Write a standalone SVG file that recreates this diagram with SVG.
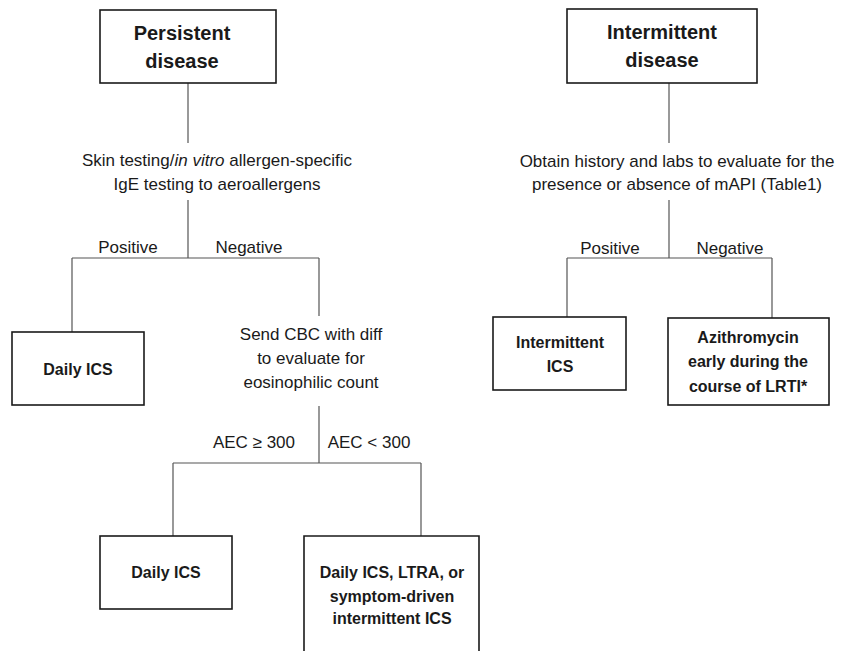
<svg xmlns="http://www.w3.org/2000/svg" width="844" height="651" viewBox="0 0 844 651">
<style>
.box{fill:#fff;stroke:#1a1a1a;stroke-width:1.6}
.ln{fill:none;stroke:#555;stroke-width:1.2}
.t{font-family:"Liberation Sans",Arial,sans-serif;font-size:17px;fill:#1a1a1a;text-anchor:middle}
.b{font-family:"Liberation Sans",Arial,sans-serif;font-size:16px;font-weight:bold;fill:#1a1a1a;text-anchor:middle}
.h{font-family:"Liberation Sans",Arial,sans-serif;font-size:20px;font-weight:bold;fill:#1a1a1a;text-anchor:middle}
</style>
<rect width="844" height="651" fill="#fff"/>
<g id="connectors">
<path class="ln" d="M188,83 V143"/>
<path class="ln" d="M188,200 V258 M72,258 H319 M72,258 V332 M319,258 V316"/>
<path class="ln" d="M319,406 V463 M173,463 H421 M173,463 V536 M421,463 V536"/>
<path class="ln" d="M669,83 V143"/>
<path class="ln" d="M669,200 V258 M567,258 H772 M567,258 V317 M772,258 V318"/>
</g>
<g id="persistent">
<rect class="box" x="100" y="10" width="176" height="73"/>
<text class="h" x="182" y="40">Persistent</text>
<text class="h" x="182" y="68">disease</text>
</g>
<g id="intermittent">
<rect class="box" x="567" y="9" width="190" height="74"/>
<text class="h" x="662" y="39">Intermittent</text>
<text class="h" x="662" y="67">disease</text>
</g>
<g id="skin-testing">
<text class="t" x="217" y="166">Skin testing/<tspan font-style="italic">in vitro</tspan> allergen-specific</text>
<text class="t" x="217" y="190">IgE testing to aeroallergens</text>
</g>
<g id="obtain-history">
<text class="t" x="677" y="167">Obtain history and labs to evaluate for the</text>
<text class="t" x="677" y="190">presence or absence of mAPI (Table1)</text>
</g>
<g id="labels">
<text class="t" x="128" y="253">Positive</text>
<text class="t" x="249" y="253">Negative</text>
<text class="t" x="610" y="254">Positive</text>
<text class="t" x="730" y="254">Negative</text>
<text class="t" x="254" y="448">AEC ≥ 300</text>
<text class="t" x="369" y="448">AEC &lt; 300</text>
</g>
<g id="daily-ics-1">
<rect class="box" x="12" y="332" width="132" height="73"/>
<text class="b" x="78" y="375">Daily ICS</text>
</g>
<g id="send-cbc">
<text class="t" x="311" y="340">Send CBC with diff</text>
<text class="t" x="311" y="364">to evaluate for</text>
<text class="t" x="311" y="388">eosinophilic count</text>
</g>
<g id="intermittent-ics">
<rect class="box" x="493" y="317" width="133" height="73"/>
<text class="b" x="560" y="348">Intermittent</text>
<text class="b" x="560" y="372">ICS</text>
</g>
<g id="azithromycin">
<rect class="box" x="668" y="318" width="161" height="87"/>
<text class="b" x="748" y="343">Azithromycin</text>
<text class="b" x="748" y="367">early during the</text>
<text class="b" x="748" y="392">course of LRTI*</text>
</g>
<g id="daily-ics-2">
<rect class="box" x="100" y="536" width="132" height="73"/>
<text class="b" x="166" y="578">Daily ICS</text>
</g>
<g id="daily-ics-ltra">
<path class="box" d="M304,660 V536 H479 V660"/>
<text class="b" x="392" y="578">Daily ICS, LTRA, or</text>
<text class="b" x="392" y="602">symptom-driven</text>
<text class="b" x="392" y="624">intermittent ICS</text>
</g>
</svg>
